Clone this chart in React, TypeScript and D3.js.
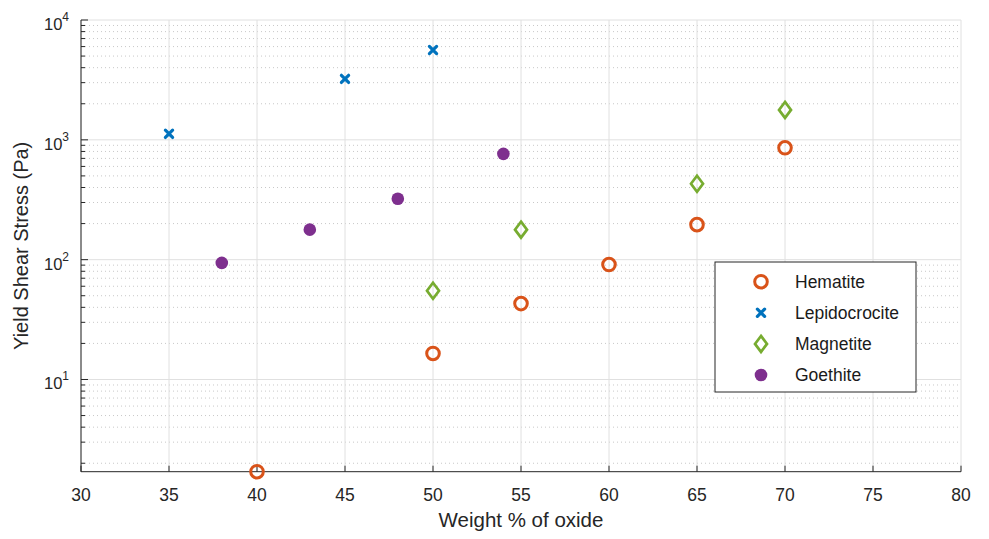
import React from "react";
import * as d3 from "d3";

const hematiteX = [40, 50, 55, 60, 65, 70];
const hematiteY = [1.7, 16.5, 43, 91, 196, 858];
const lepidoX = [35, 45, 50];
const lepidoY = [1122, 3225, 5623];
const magnetiteX = [50, 55, 65, 70];
const magnetiteY = [55, 178, 430, 1778];
const goethiteX = [38, 43, 48, 54];
const goethiteY = [94, 178, 322, 764];

const xTicks = [30, 35, 40, 45, 50, 55, 60, 65, 70, 75, 80];
const yDecades = [1, 2, 3, 4];

const seriesNames = ["Hematite", "Lepidocrocite", "Magnetite", "Goethite"];
const seriesColors = ["#D95319", "#0072BD", "#77AC30", "#7E2F8E"];

const W = 989;
const H = 539;
const M = { left: 81, right: 961, top: 20, bottom: 471.7 };
const FONT = "'Liberation Sans', Arial, Helvetica, sans-serif";

function Marker({ kind, cx, cy, color }: { kind: number; cx: number; cy: number; color: string }) {
  if (kind === 0) {
    return <circle cx={cx} cy={cy} r={6.3} fill="none" stroke={color} strokeWidth={3} />;
  }
  if (kind === 1) {
    const s = 3.6;
    return (
      <path
        d={`M${cx - s},${cy - s}L${cx + s},${cy + s}M${cx - s},${cy + s}L${cx + s},${cy - s}`}
        stroke={color}
        strokeWidth={3.2}
        strokeLinecap="round"
      />
    );
  }
  if (kind === 2) {
    const w = 6;
    const h = 8;
    return (
      <path
        d={`M${cx},${cy - h}L${cx + w},${cy}L${cx},${cy + h}L${cx - w},${cy}Z`}
        fill="none"
        stroke={color}
        strokeWidth={2.7}
        strokeLinejoin="miter"
      />
    );
  }
  return <circle cx={cx} cy={cy} r={6.3} fill={color} />;
}

export default function App() {
  const x = d3.scaleLinear().domain([30, 80]).range([M.left, M.right]);
  const allY = [...hematiteY, ...lepidoY, ...magnetiteY, ...goethiteY];
  const yMin = d3.min(allY) as number;
  const y = d3.scaleLog().domain([yMin, 1e4]).range([M.bottom, M.top]);

  const minorVals: number[] = [];
  for (let e = 0; e <= 3; e++) {
    for (let k = 2; k <= 9; k++) {
      const v = k * Math.pow(10, e);
      if (v >= yMin && v <= 1e4) minorVals.push(v);
    }
  }

  const series = [
    { xs: hematiteX, ys: hematiteY },
    { xs: lepidoX, ys: lepidoY },
    { xs: magnetiteX, ys: magnetiteY },
    { xs: goethiteX, ys: goethiteY },
  ];

  const axisColor = "#262626";
  const legend = { x: 715, y: 262, w: 201, h: 130 };

  return (
    <svg width={W} height={H} style={{ position: "absolute", left: 0, top: 0, background: "#fff" }}>
      {/* minor y grid */}
      {minorVals.map((v) => (
        <line key={"mg" + v} x1={M.left} x2={M.right} y1={y(v)} y2={y(v)} stroke="#c8c8c8" strokeWidth={1} strokeDasharray="1 3" />
      ))}
      {/* major grid */}
      {yDecades.map((e) => (
        <line key={"gy" + e} x1={M.left} x2={M.right} y1={y(Math.pow(10, e))} y2={y(Math.pow(10, e))} stroke="#e0e0e0" strokeWidth={1} />
      ))}
      {xTicks.map((t) => (
        <line key={"gx" + t} x1={x(t)} x2={x(t)} y1={M.top} y2={M.bottom} stroke="#e0e0e0" strokeWidth={1} />
      ))}

      {/* axes */}
      <line x1={M.left} x2={M.right} y1={M.bottom} y2={M.bottom} stroke={axisColor} strokeWidth={1} />
      <line x1={M.left} x2={M.left} y1={M.top} y2={M.bottom} stroke={axisColor} strokeWidth={1} />
      {xTicks.map((t) => (
        <g key={"xt" + t}>
          <line x1={x(t)} x2={x(t)} y1={M.bottom} y2={M.bottom - 6} stroke={axisColor} />
          <text x={x(t)} y={M.bottom + 29} textAnchor="middle" fontFamily={FONT} fontSize={17.5} fill={axisColor}>
            {t}
          </text>
        </g>
      ))}
      {minorVals.map((v) => (
        <line key={"ymt" + v} x1={M.left} x2={M.left + 4} y1={y(v)} y2={y(v)} stroke={axisColor} />
      ))}
      {yDecades.map((e) => (
        <g key={"yt" + e}>
          <line x1={M.left} x2={M.left + 7} y1={y(Math.pow(10, e))} y2={y(Math.pow(10, e))} stroke={axisColor} />
          <text x={M.left - 12} y={y(Math.pow(10, e)) + 10} textAnchor="end" fontFamily={FONT} fontSize={16.5} fill={axisColor}>
            10
            <tspan dy={-9} fontSize={12}>
              {e}
            </tspan>
          </text>
        </g>
      ))}

      {/* axis labels */}
      <text x={(M.left + M.right) / 2} y={527} textAnchor="middle" fontFamily={FONT} fontSize={20.5} fill={axisColor}>
        Weight % of oxide
      </text>
      <text
        transform={`translate(28,${(M.top + M.bottom) / 2}) rotate(-90)`}
        textAnchor="middle"
        fontFamily={FONT}
        fontSize={20}
        fill={axisColor}
      >
        Yield Shear Stress (Pa)
      </text>

      {/* data */}
      {series.map((s, i) =>
        s.xs.map((xv, j) => (
          <Marker key={i + "-" + j} kind={i} cx={x(xv)} cy={y(s.ys[j])} color={seriesColors[i]} />
        ))
      )}

      {/* legend */}
      <rect x={legend.x} y={legend.y} width={legend.w} height={legend.h} fill="#fff" stroke={axisColor} strokeWidth={1} />
      {seriesNames.map((n, i) => {
        const cy = legend.y + 19.7 + i * 31.1;
        return (
          <g key={n}>
            <Marker kind={i} cx={761} cy={cy} color={seriesColors[i]} />
            <text x={795} y={cy + 6.3} fontFamily={FONT} fontSize={17.5} fill="#1a1a1a">
              {n}
            </text>
          </g>
        );
      })}
    </svg>
  );
}
